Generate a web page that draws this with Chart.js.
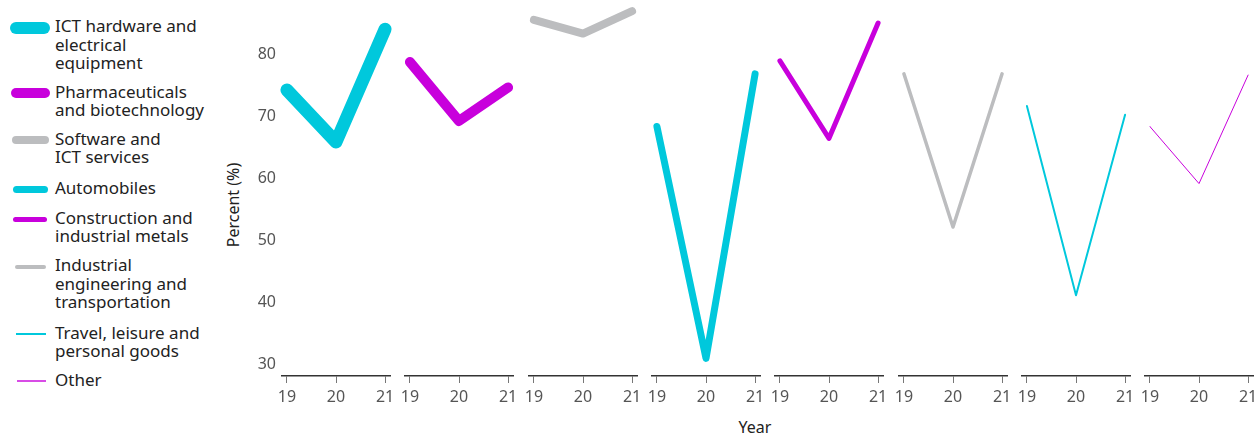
<!DOCTYPE html>
<html>
<head>
<meta charset="utf-8">
<script src="https://cdn.jsdelivr.net/npm/chart.js@4/dist/chart.umd.min.js"></script>
<style>
  body { margin: 0; background: #fff; font-family: "Noto Sans", sans-serif; }
  #wrap { position: relative; width: 1258px; height: 435px; overflow: hidden; }
  canvas { position: absolute; top: 0; }
  .sw { position: absolute; }
  .lt { position: absolute; left: 55px; font-size: 17px; line-height: 18.5px; color: #222; white-space: nowrap; }
  .ttl { position: absolute; font-size: 16px; color: #222; white-space: nowrap; }
</style>
</head>
<body>
<div id="wrap"></div>
<script>
// years on the x axis of every panel
const years = [19, 20, 21];
const xLabels = ['19', '20', '21'];
const yTicks = [30, 40, 50, 60, 70, 80];

const categories = [
  ['ICT hardware and', 'electrical', 'equipment'],
  ['Pharmaceuticals', 'and biotechnology'],
  ['Software and', 'ICT services'],
  ['Automobiles'],
  ['Construction and', 'industrial metals'],
  ['Industrial', 'engineering and', 'transportation'],
  ['Travel, leisure and', 'personal goods'],
  ['Other']
];

const ictHardware = [74.2, 65.8, 84.0];
const pharma = [78.7, 69.2, 74.6];
const software = [85.5, 83.3, 86.9];
const automobiles = [68.3, 30.9, 76.8];
const construction = [78.9, 66.4, 85.0];
const industrialEng = [76.8, 52.1, 76.8];
const travel = [71.6, 41.1, 70.2];
const other = [68.3, 59.1, 76.6];

const series = [ictHardware, pharma, software, automobiles, construction, industrialEng, travel, other];

const CYAN = '#00c8dc';
const MAGENTA = '#c800dc';
const GREY = '#bcbdbf';
const colors = [CYAN, MAGENTA, GREY, CYAN, MAGENTA, GREY, CYAN, MAGENTA];
const widths = [13, 10, 8, 7, 5, 3.5, 2, 1];

const wrap = document.getElementById('wrap');

// legend
const legendY = [27.7, 93.3, 140.3, 189, 219, 266.7, 334, 381];
const legendX = [[10, 50], [11, 50], [12, 49], [12.5, 48], [13, 47], [15, 46], [16, 46], [17, 46]];
const legendW = [12, 10, 8, 7, 5, 4, 2, 1.5];
categories.forEach((lines, i) => {
  const sw = document.createElement('div');
  sw.className = 'sw';
  sw.style.left = legendX[i][0] + 'px';
  sw.style.width = (legendX[i][1] - legendX[i][0]) + 'px';
  sw.style.top = (legendY[i] - legendW[i] / 2) + 'px';
  sw.style.height = legendW[i] + 'px';
  if (legendW[i] > 2) sw.style.borderRadius = (legendW[i] / 2) + 'px';
  sw.style.background = colors[i];
  if (legendW[i] < 2) sw.style.opacity = 0.7;
  wrap.appendChild(sw);
  const t = document.createElement('div');
  t.className = 'lt';
  t.style.top = (legendY[i] - 10.5) + 'px';
  t.innerHTML = lines.join('<br>');
  wrap.appendChild(t);
});

// axis titles
const yt = document.createElement('div');
yt.className = 'ttl';
yt.textContent = 'Percent (%)';
yt.style.left = '232.7px';
yt.style.top = '205px';
yt.style.transform = 'translate(-50%, -50%) rotate(-90deg)';
wrap.appendChild(yt);
const xt = document.createElement('div');
xt.className = 'ttl';
xt.textContent = 'Year';
xt.style.left = '755px';
xt.style.top = '427px';
xt.style.transform = 'translate(-50%, -50%)';
wrap.appendChild(xt);

const PAD = 10;
const YAXIS_W = 82;
const PANEL_W = 108;
const CANVAS_H = 408;

series.forEach((vals, i) => {
  const start = 282 + i * 123.3;
  const first = i === 0;
  const cv = document.createElement('canvas');
  const w = PANEL_W + 2 * PAD + (first ? YAXIS_W : 0);
  cv.width = w;
  cv.height = CANVAS_H;
  cv.style.width = w + 'px';
  cv.style.height = CANVAS_H + 'px';
  cv.style.left = (start - PAD - (first ? YAXIS_W : 0)) + 'px';
  wrap.appendChild(cv);

  new Chart(cv.getContext('2d'), {
    type: 'line',
    data: {
      datasets: [{
        data: years.map((x, j) => ({ x: x, y: vals[j] })),
        borderColor: colors[i],
        borderWidth: widths[i],
        borderCapStyle: 'round',
        borderJoinStyle: 'round',
        pointRadius: 0,
        tension: 0,
        clip: false
      }]
    },
    options: {
      responsive: false,
      animation: false,
      layout: { padding: { left: PAD, right: PAD, top: 0, bottom: 0 } },
      plugins: { legend: { display: false }, tooltip: { enabled: false } },
      scales: {
        x: {
          type: 'linear',
          min: 18.9,
          max: 21.1,
          afterBuildTicks: s => { s.ticks = years.map(v => ({ value: v })); },
          afterFit: s => { s.height = CANVAS_H - 376; },
          grid: { drawOnChartArea: false, drawTicks: true, tickLength: 7, color: '#777', lineWidth: 1 },
          border: { display: true, color: '#333', width: 1.5 },
          ticks: {
            autoSkip: false, maxRotation: 0, padding: 5,
            color: '#555', font: { family: 'Noto Sans', size: 16 },
            callback: v => xLabels[years.indexOf(v)]
          }
        },
        y: {
          display: first,
          min: 28.06,
          max: 88.71,
          afterBuildTicks: s => { s.ticks = yTicks.map(v => ({ value: v })); },
          afterFit: s => {
            s.paddingTop = 0;
            s.paddingBottom = 0;
            s.width = first ? YAXIS_W : 0;
          },
          grid: { display: false, drawTicks: false },
          border: { display: false },
          ticks: { padding: 6, color: '#555', font: { family: 'Noto Sans', size: 16 } }
        }
      }
    }
  });
});
</script>
</body>
</html>
